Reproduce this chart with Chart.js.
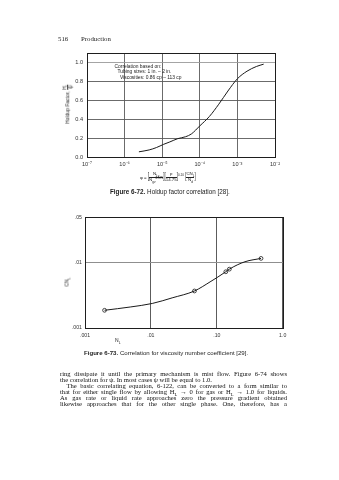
<!DOCTYPE html>
<html>
<head>
<meta charset="utf-8">
<script src="https://cdn.jsdelivr.net/npm/chart.js@4.4.1/dist/chart.umd.min.js"></script>
<style>
  html, body { margin: 0; padding: 0; background: #fff; width: 339px; height: 480px; overflow: hidden; position: relative; }
  canvas { position: absolute; left: 0; }
  .t { position: absolute; white-space: nowrap; color: #1c1c1c; line-height: 1; transform: translateZ(0); }
  .sans { font-family: "Liberation Sans", Arial, sans-serif; }
  .serif { font-family: "Liberation Serif", "Times New Roman", serif; }
  .t.rot { transform: translate(-50%, -50%) rotate(-90deg); }
  .frac { display: inline-block; vertical-align: middle; text-align: center; line-height: 1.05; }
  .frac > span { display: block; }
  .frac > span:first-child { border-bottom: 0.5px solid #222; }
  .br { display: inline-block; vertical-align: middle; transform: scaleY(2.2); font-size: 1em; }
  sub, sup { font-size: 0.7em; line-height: 0; }
  .body-line { position: absolute; left: 60px; width: 227px; text-align: justify; text-align-last: justify; white-space: nowrap; font-size: 6.6px; color: #111; transform: translateZ(0); }
</style>
</head>
<body>
<!-- running head -->
<div class="t serif" style="left:58px;top:35.5px;font-size:6.8px;">516</div>
<div class="t serif" style="left:81px;top:35.5px;font-size:6.8px;">Production</div>

<canvas id="holdup" width="339" height="172" style="top:0"></canvas>

<!-- notes inside the holdup plot -->
<div class="t sans" style="left:114.5px;top:64.5px;font-size:4.9px;">Correlation based on:</div>
<div class="t sans" style="left:117.5px;top:70px;font-size:4.9px;">Tubing sizes: 1 in. – 2 in.</div>
<div class="t sans" style="left:120px;top:75.8px;font-size:4.9px;">Viscosities: 0.86 cp – 113 cp</div>

<!-- y-axis title of the holdup plot -->
<div class="t sans rot" style="left:67.5px;top:104px;font-size:5px;">Holdup Factor, <span class="frac"><span>H<sub>L</sub></span><span>ψ</span></span></div>

<!-- correlating group under the holdup plot -->
<div class="t sans" style="left:140px;top:172px;font-size:4.4px;">φ = <span class="br">[</span><span class="frac"><span>N<sub>Lv</sub></span><span>N<sub>gv</sub><sup>0.575</sup></span></span><span class="br">]</span><span class="br">[</span><span class="frac"><span>p</span><span>14.75</span></span><span class="br">]</span><sup>0.10</sup> <span class="br">[</span><span class="frac"><span>CN<sub>L</sub></span><span>N<sub>d</sub></span></span><span class="br">]</span></div>

<div class="t sans" style="left:110px;top:189px;font-size:6.3px;"><b>Figure 6-72.</b> Holdup factor correlation [28].</div>

<canvas id="viscosity" width="339" height="145" style="top:200px"></canvas>

<div class="t sans rot" style="left:67px;top:282px;font-size:5px;">CN<sub>L</sub></div>
<div class="t sans" style="left:115px;top:338px;font-size:5px;">N<sub>L</sub></div>

<div class="t sans" style="left:84px;top:349.5px;font-size:6.1px;"><b>Figure 6-73.</b> Correlation for viscosity number coefficient [29].</div>

<!-- body text -->
<div class="body-line serif" style="top:370.3px;">ring dissipate it until the primary mechanism is mist flow. Figure 6-74 shows</div>
<div class="body-line serif" style="top:376.3px;text-align:left;text-align-last:left;">the correlation for ψ. In most cases ψ will be equal to 1.0.</div>
<div class="body-line serif" style="top:382px;left:66.5px;width:220.5px;">The basic correlating equation, 6-122, can be converted to a form similar to</div>
<div class="body-line serif" style="top:388px;">that for either single flow by allowing H<sub>L</sub> → 0 for gas or H<sub>L</sub> → 1.0 for liquids.</div>
<div class="body-line serif" style="top:393.7px;">As gas rate or liquid rate approaches zero the pressure gradient obtained</div>
<div class="body-line serif" style="top:399.7px;">likewise approaches that for the other single phase. One, therefore, has a</div>

<script>
// Figure 6-72: holdup factor vs. correlating group phi
const phi = [2.4e-6, 4.5e-6, 7e-6, 1.1e-5, 1.6e-5, 2.6e-5, 4.2e-5, 6e-5, 1e-4, 1.8e-4, 3.2e-4, 5.6e-4, 1e-3, 1.8e-3, 3.2e-3, 5e-3];
const holdupFactor = [0.055, 0.075, 0.10, 0.135, 0.16, 0.195, 0.215, 0.245, 0.33, 0.43, 0.56, 0.70, 0.83, 0.91, 0.96, 0.985];
const phiTicks = [1e-7, 1e-6, 1e-5, 1e-4, 1e-3, 1e-2];
const phiTickLabels = ['10⁻⁷', '10⁻⁶', '10⁻⁵', '10⁻⁴', '10⁻³', '10⁻²'];
const holdupTicks = [0, 0.2, 0.4, 0.6, 0.8, 1.0];
const holdupTickLabels = ['0.0', '0.2', '0.4', '0.6', '0.8', '1.0'];

// Figure 6-73: viscosity number coefficient CN_L vs. N_L
const nL = [0.00198, 0.00485, 0.0105, 0.021, 0.0458, 0.079, 0.137, 0.155, 0.268, 0.469];
const cnL = [0.00187, 0.0021, 0.00238, 0.0029, 0.0037, 0.0051, 0.0073, 0.0080, 0.0104, 0.0117];
const nLPoints = [0.00198, 0.0458, 0.137, 0.155, 0.469];
const cnLPoints = [0.00187, 0.0037, 0.0073, 0.0080, 0.0117];
const nLTicks = [0.001, 0.01, 0.1, 1];
const nLTickLabels = ['.001', '.01', '.10', '1.0'];
const cnLTicks = [0.001, 0.01, 0.05];
const cnLTickLabels = ['.001', '.01', '.05'];

const frame = {
  id: 'frame',
  beforeDatasetsDraw(chart) {
    const a = chart.chartArea, ctx = chart.ctx;
    ctx.save();
    ctx.strokeStyle = '#1e1e1e';
    ctx.lineWidth = 1;
    ctx.strokeRect(Math.round(a.left) + 0.5, Math.round(a.top) + 0.5, Math.round(a.right - a.left), Math.round(a.bottom - a.top));
    ctx.restore();
  }
};

const pairs = (xs, ys) => xs.map((x, i) => ({ x, y: ys[i] }));
const tickFont = (size) => ({ family: '"Liberation Sans", Arial, sans-serif', size });

new Chart(document.getElementById('holdup'), {
  type: 'line',
  data: {
    datasets: [{
      data: pairs(phi, holdupFactor),
      borderColor: '#1a1a1a',
      borderWidth: 1,
      pointRadius: 0,
      cubicInterpolationMode: 'monotone',
      fill: false
    }]
  },
  options: {
    responsive: false,
    animation: false,
    devicePixelRatio: 1,
    layout: { padding: { top: 53.3, right: 64, left: 0, bottom: 0 } },
    plugins: { legend: { display: false }, tooltip: { enabled: false } },
    scales: {
      x: {
        type: 'logarithmic',
        min: 1e-7, max: 1e-2,
        afterBuildTicks(s) { s.ticks = phiTicks.map(v => ({ value: v })); },
        afterFit(s) { s.height = 15; },
        grid: { color: '#5a5a5a', lineWidth: 0.9, drawTicks: false },
        border: { display: false },
        ticks: {
          autoSkip: false, maxRotation: 0, padding: 4,
          color: '#333', font: tickFont(5.6),
          callback: (v, i) => phiTickLabels[i]
        }
      },
      y: {
        type: 'linear',
        min: 0, max: 1.1,
        afterBuildTicks(s) { s.ticks = holdupTicks.map(v => ({ value: v })); },
        afterFit(s) { s.width = 87; },
        grid: { color: (c) => c.tick && c.tick.value === 1 ? '#9a9a9a' : '#5a5a5a', lineWidth: 0.9, drawTicks: false },
        border: { display: false },
        ticks: {
          autoSkip: false, padding: 4,
          color: '#333', font: tickFont(5.6),
          callback: (v, i) => holdupTickLabels[i]
        }
      }
    }
  },
  plugins: [frame]
});

new Chart(document.getElementById('viscosity'), {
  type: 'line',
  data: {
    datasets: [{
      data: pairs(nL, cnL),
      borderColor: '#1a1a1a',
      borderWidth: 1,
      pointRadius: 0,
      cubicInterpolationMode: 'monotone',
      fill: false
    }, {
      data: pairs(nLPoints, cnLPoints),
      showLine: false,
      pointStyle: 'circle',
      pointRadius: 1.9,
      pointBorderWidth: 0.8,
      pointBorderColor: '#1a1a1a',
      pointBackgroundColor: '#fff'
    }]
  },
  options: {
    responsive: false,
    animation: false,
    devicePixelRatio: 1,
    layout: { padding: { top: 17.3, right: 56.3, left: 0, bottom: 0 } },
    plugins: { legend: { display: false }, tooltip: { enabled: false } },
    scales: {
      x: {
        type: 'logarithmic',
        min: 0.001, max: 1,
        afterBuildTicks(s) { s.ticks = nLTicks.map(v => ({ value: v })); },
        afterFit(s) { s.height = 17; },
        grid: { color: '#4a4a4a', lineWidth: 0.9, drawTicks: false },
        border: { display: false },
        ticks: {
          autoSkip: false, maxRotation: 0, padding: 4,
          color: '#333', font: tickFont(5.2),
          callback: (v, i) => nLTickLabels[i]
        }
      },
      y: {
        type: 'logarithmic',
        min: 0.001, max: 0.05,
        afterBuildTicks(s) { s.ticks = cnLTicks.map(v => ({ value: v })); },
        afterFit(s) { s.width = 85; },
        grid: { color: (c) => c.tick && c.tick.value === 0.01 ? '#8f8f8f' : '#4a4a4a', lineWidth: 1, drawTicks: false },
        border: { display: false },
        ticks: {
          autoSkip: false, padding: 3,
          color: '#333', font: tickFont(5.2),
          callback: (v, i) => cnLTickLabels[i]
        }
      }
    }
  },
  plugins: [frame]
});
</script>
</body>
</html>
